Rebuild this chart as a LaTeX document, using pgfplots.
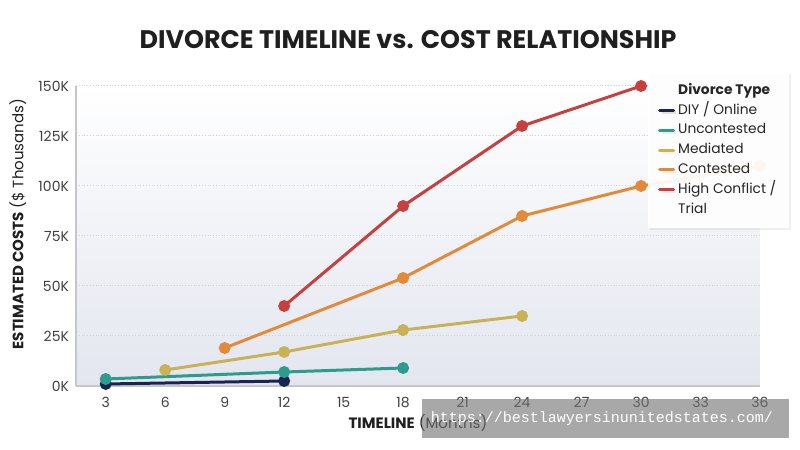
\documentclass[border=0pt]{standalone}
\usepackage{pgfplots}
\pgfplotsset{compat=1.18}
\usepackage{fontspec}
\setmainfont{Poppins}
\setmonofont{Liberation Mono}
\usetikzlibrary{shadows}
\definecolor{diy}{HTML}{1B2355}
\definecolor{unc}{HTML}{2E9C8C}
\definecolor{med}{HTML}{C9B157}
\definecolor{con}{HTML}{E3893A}
\definecolor{hc}{HTML}{C6403F}
\definecolor{bgbot}{HTML}{E3E6EF}
\definecolor{wm}{HTML}{737373}
\begin{document}
\begin{tikzpicture}
\path[use as bounding box] (0,0) rectangle (400pt,225pt);
\node[font=\bfseries\fontsize{12.7}{14}\selectfont, text=black!88] at (204pt,205pt) {DIVORCE TIMELINE vs. COST RELATIONSHIP};
\begin{axis}[
  at={(38pt,32pt)}, anchor=south west,
  scale only axis, width=342pt, height=150pt,
  xmin=1.5, xmax=36, ymin=0, ymax=150,
  xtick={3,6,...,36}, ytick={0,25,...,150},
  yticklabels={0K,25K,50K,75K,100K,125K,150K},
  /pgf/number format/assume math mode=true,
  ticklabel style={font=\fontsize{7}{8}\selectfont, text=black!75},
  xticklabel style={yshift=-2pt},
  major tick length=0pt,
  axis x line*=bottom, axis y line*=left,
  axis line style={draw=gray!45, line width=0.6pt},
  ymajorgrids, grid style={densely dotted, gray!35, line width=0.5pt},
  axis background/.style={shade, top color=white, bottom color=bgbot},
  xlabel={\textbf{TIMELINE} (Months)},
  ylabel={\textbf{ESTIMATED COSTS} (\$ Thousands)},
  label style={font=\fontsize{7.5}{8.5}\selectfont, text=black!88},
  x label style={at={(axis description cs:0.5,-0.123)}, anchor=center},
  y label style={at={(axis description cs:-0.085,0.54)}, anchor=center},
  every axis plot/.append style={line width=1.5pt, mark=*, mark size=2.2pt},
  legend cell align=left,
  legend image code/.code={\draw[#1, mark=none, line width=1.5pt, line cap=round] (0pt,0pt) -- (7pt,0pt);},
  legend style={at={(axis description cs:0.836,1.047)}, anchor=north west,
    draw=none, fill=white, fill opacity=0.93, text opacity=1,
    drop shadow={opacity=0.12, shadow xshift=1pt, shadow yshift=-1pt},
    font=\fontsize{6.9}{8}\selectfont, text=black!85,
    cells={anchor=west},
    nodes={inner xsep=1.5pt, inner ysep=0.8pt, text height=5.2pt, text depth=1.6pt},
    row sep=1.5pt, inner sep=5pt},
]
\addlegendimage{empty legend}
\addlegendentry{\textbf{Divorce Type}}
\addplot[color=diy] coordinates {(3,1) (12,2.5)};
\addlegendentry{DIY / Online}
\addplot[color=unc] coordinates {(3,3.5) (12,7) (18,9)};
\addlegendentry{Uncontested}
\addplot[color=med] coordinates {(6,8) (12,17) (18,28) (24,35)};
\addlegendentry{Mediated}
\addplot[color=con] coordinates {(9,19) (18,54) (24,85) (30,100) (36,110)};
\addlegendentry{Contested}
\addplot[color=hc] coordinates {(12,40) (18,90) (24,130) (30,150)};
\addlegendentry{High Conflict /}
\addlegendimage{empty legend}
\addlegendentry{Trial}
\end{axis}
\fill[wm, fill opacity=0.62] (211pt,6pt) rectangle (394.5pt,25.5pt);
\node[font=\ttfamily\fontsize{7.5}{8}\selectfont, text=white] at (301pt,15.5pt) {https://bestlawyersinunitedstates.com/};
\end{tikzpicture}
\end{document}
